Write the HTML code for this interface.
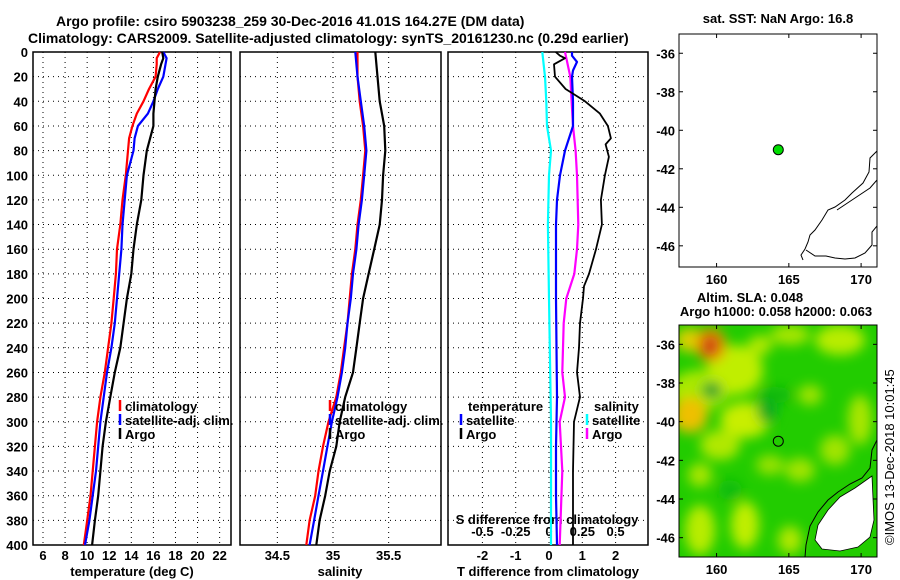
<!DOCTYPE html>
<html><head><meta charset="utf-8"><style>
html,body{margin:0;padding:0;background:#fff;}
svg{display:block;font-family:"Liberation Sans",sans-serif;font-weight:bold;}
text{font-size:13px;fill:#000;}
text.title{font-size:14px;}
</style></head><body>
<svg id="chart" width="900" height="580" viewBox="0 0 900 580" xmlns="http://www.w3.org/2000/svg">
<defs>
<filter id="blur" x="-50%" y="-50%" width="200%" height="200%"><feGaussianBlur stdDeviation="6"/></filter>
<clipPath id="mapclip"><rect x="679" y="325" width="198" height="232"/></clipPath>
<clipPath id="mapclip1"><rect x="679" y="34" width="198" height="233"/></clipPath>
</defs>
<text class="title" x="56" y="26">Argo profile: csiro 5903238_259 30-Dec-2016 41.01S 164.27E (DM data)</text>
<text class="title" x="28" y="43">Climatology: CARS2009. Satellite-adjusted climatology: synTS_20161230.nc (0.29d earlier)</text>
<g id="g"></g>
</svg>
<script>
// ---- data ----
const tDepths = [0,5,10,20,30,40,50,60,70,80,100,120,140,160,180,200,220,240,260,280,300,320,340,360,380,400];
const tArgo = [16.8,16.9,16.7,16.4,16.2,16.1,16.0,16.0,15.7,15.4,15.1,14.9,14.5,14.2,14.0,13.6,13.3,13.0,12.5,12.1,11.7,11.4,11.2,11.0,10.7,10.45];
const tClim = [16.6,16.3,16.3,16.2,15.6,15.1,14.5,14.1,13.8,13.7,13.5,13.2,13.0,12.7,12.6,12.4,12.2,11.9,11.6,11.2,10.9,10.7,10.5,10.3,10.0,9.7];
const tSat  = [16.9,17.2,17.1,16.9,16.4,16.0,15.5,14.6,14.3,14.2,13.6,13.4,13.2,13.1,12.9,12.7,12.5,12.2,11.8,11.5,11.2,11.0,10.8,10.5,10.2,9.8];
const sDepths = [0,20,40,60,80,100,120,140,160,180,200,220,240,260,280,300,320,340,360,380,400];
const sArgo = [35.38,35.40,35.42,35.46,35.47,35.45,35.44,35.42,35.37,35.32,35.27,35.24,35.21,35.18,35.11,35.06,35.03,34.97,34.93,34.88,34.85];
const sClim = [35.22,35.22,35.24,35.27,35.29,35.27,35.25,35.22,35.20,35.17,35.15,35.13,35.10,35.07,35.03,34.96,34.91,34.87,34.84,34.79,34.76];
const sSat  = [35.20,35.22,35.25,35.28,35.30,35.28,35.26,35.23,35.21,35.18,35.16,35.13,35.11,35.08,35.04,34.99,34.95,34.91,34.87,34.83,34.79];
const dTArgoDepths = [0,3,5,10,20,30,40,50,60,70,75,85,100,120,140,160,180,190,200,220,240,260,280,300,340,400];
const dTArgo = [0.2,0.33,0.48,0.15,0.18,0.5,1.08,1.53,1.77,1.86,1.7,1.8,1.68,1.56,1.59,1.41,1.2,1.05,1.02,0.93,0.9,0.84,0.93,0.75,0.72,0.72];
const dTSatDepths = [0,3,8,15,20,40,60,80,100,120,140,200,280,320,360,400];
const dTSat = [0.69,0.69,0.84,0.72,0.69,0.72,0.72,0.48,0.33,0.24,0.21,0.21,0.24,0.21,0.21,0.24];
const dSSatDepths = [0,20,40,60,80,100,140,200,300,400];
const dSSat = [-0.05,-0.03,-0.02,-0.015,0.015,0,-0.008,0,0.015,0.015];
const dSArgoDepths = [0,20,40,60,80,100,140,160,180,200,220,260,280,300,340,400];
const dSArgo = [0.12,0.16,0.17,0.18,0.2,0.21,0.22,0.21,0.19,0.13,0.11,0.1,0.12,0.08,0.1,0.08];
const depthTicks = [0,20,40,60,80,100,120,140,160,180,200,220,240,260,280,300,320,340,360,380,400];
const tTicks = [6,8,10,12,14,16,18,20,22];
const sTicks = [34.5,35,35.5];
const dTTicks = [-2,-1,0,1,2];
const dSTicks = ["-0.5","-0.25","0","0.25","0.5"];
const latTicks = [-36,-38,-40,-42,-44,-46];
const lonTicks = [160,165,170];
const argoLon = 164.27, argoLat = -41.01;

// ---- axes ----
const NS='http://www.w3.org/2000/svg';
const G=document.getElementById('g');
function el(tag,attrs,parent){const e=document.createElementNS(NS,tag);for(const k in attrs)e.setAttribute(k,attrs[k]);(parent||G).appendChild(e);return e;}
const Y0=52,Y1=545;
const yD=d=>Y0+d*(Y1-Y0)/400;
const xT=t=>43+(t-6)*11.04;
const xS=s=>333+(s-35)*111.3;
const xDT=d=>549+d*33.3;
const xDS=d=>549+d*133.2;
const panels=[{x0:33,x1:231,name:'temperature-panel'},{x0:240,x1:441,name:'salinity-panel'},{x0:448,x1:648,name:'difference-panel'}];
const xGrids=[tTicks.map(xT),sTicks.map(xS),dTTicks.map(xDT)];

panels.forEach((p,i)=>{
  const g=el('g',{});
  
  
  depthTicks.forEach(d=>{ if(d>0&&d<400){const l=el('line',{x1:p.x0,x2:p.x1,y1:yD(d),y2:yD(d),stroke:'#000','stroke-width':1,'stroke-dasharray':'1,4'},g);}});
  xGrids[i].forEach(x=>{const l=el('line',{x1:x,x2:x,y1:Y0,y2:Y1,stroke:'#000','stroke-width':1,'stroke-dasharray':'1,4'},g);});
  const r=el('rect',{x:p.x0,y:Y0,width:p.x1-p.x0,height:Y1-Y0,fill:'none',stroke:'#000','stroke-width':1.5},g);
  
  
});
depthTicks.forEach(d=>{const t=el('text',{x:28,y:yD(d)+5,'text-anchor':'end'});t.textContent=d;

});
tTicks.forEach(v=>{const t=el('text',{x:xT(v),y:560,'text-anchor':'middle'});t.textContent=v;

});
sTicks.forEach(v=>{const t=el('text',{x:xS(v),y:560,'text-anchor':'middle'});t.textContent=v;

});
dTTicks.forEach(v=>{const t=el('text',{x:xDT(v),y:560,'text-anchor':'middle'});t.textContent=v;

});
dSTicks.forEach(v=>{const t=el('text',{x:xDS(parseFloat(v)),y:536,'text-anchor':'middle'});t.textContent=v;

});
[['temperature (deg C)',132,'x-axis-title-temperature'],['salinity',340,'x-axis-title-salinity'],['T difference from climatology',548,'x-axis-title-t-diff']].forEach(a=>{
  const t=el('text',{x:a[1],y:576,'text-anchor':'middle'});t.textContent=a[0];
  
  
});
{const t=el('text',{x:547,y:524,'text-anchor':'middle'});t.textContent='S difference from climatology';

}

function line(depths,vals,xf,color,name,w){
  const pts=depths.map((d,i)=>xf(vals[i]).toFixed(1)+','+yD(d).toFixed(1)).join(' ');
  const l=el('polyline',{points:pts,fill:'none',stroke:color,'stroke-width':w||2.2,'stroke-linejoin':'round'});
  
  
}
line(tDepths,tClim,xT,'#ff0000','temperature-climatology-line');
line(tDepths,tSat,xT,'#0000ff','temperature-satellite-line');
line(tDepths,tArgo,xT,'#000','temperature-argo-line');
line(sDepths,sClim,xS,'#ff0000','salinity-climatology-line');
line(sDepths,sSat,xS,'#0000ff','salinity-satellite-line');
line(sDepths,sArgo,xS,'#000','salinity-argo-line');
line(dSSatDepths,dSSat,xDS,'#00ffff','s-diff-satellite-line');
line(dSArgoDepths,dSArgo,xDS,'#ff00ff','s-diff-argo-line');
line(dTSatDepths,dTSat,xDT,'#0000ff','t-diff-satellite-line');
line(dTArgoDepths,dTArgo,xDT,'#000','t-diff-argo-line',1.8);

function legend(x,y,color,label,name){
  const m=el('line',{x1:x,x2:x,y1:y-11,y2:y,stroke:color,'stroke-width':2.5});
  
  
  const t=el('text',{x:x+5,y:y});t.textContent=label;
  
  
}
legend(120,411,'#ff0000','climatology','legend-climatology');
legend(120,425,'#0000ff','satellite-adj. clim.','legend-satellite-adj');
legend(120,439,'#000','Argo','legend-argo');
legend(330,411,'#ff0000','climatology','legend-s-climatology');
legend(330,425,'#0000ff','satellite-adj. clim.','legend-s-satellite-adj');
legend(330,439,'#000','Argo','legend-s-argo');
{const t=el('text',{x:468,y:411});t.textContent='temperature';

}
legend(461,425,'#0000ff','satellite','legend-t-satellite');
legend(461,439,'#000','Argo','legend-t-argo');
{const t=el('text',{x:594,y:411});t.textContent='salinity';

}
legend(587,425,'#00ffff','satellite','legend-s-satellite');
legend(587,439,'#ff00ff','Argo','legend-s-argo-diff');

// ---- maps ----
function mapAxes(x0,y0,w,h,lon0,lon1,lat0,lat1,prefix){
  const mx=l=>x0+(l-lon0)/(lon1-lon0)*w;
  const my=l=>y0+(lat0-l)/(lat0-lat1)*h;
  latTicks.forEach(v=>{
    const t=el('text',{x:x0-4,y:my(v)+5,'text-anchor':'end'});t.textContent=v;
    
    
    el('line',{x1:x0,x2:x0+4,y1:my(v),y2:my(v),stroke:'#000'});
    el('line',{x1:x0+w,x2:x0+w-4,y1:my(v),y2:my(v),stroke:'#000'});
  });
  lonTicks.forEach(v=>{
    const t=el('text',{x:mx(v),y:y0+h+17,'text-anchor':'middle'});t.textContent=v;
    
    
    el('line',{x1:mx(v),x2:mx(v),y1:y0+h,y2:y0+h-4,stroke:'#000'});
    el('line',{x1:mx(v),x2:mx(v),y1:y0,y2:y0+4,stroke:'#000'});
  });
  return [mx,my];
}
const slaG=el('g',{'clip-path':'url(#mapclip)'});


el('rect',{x:679,y:325,width:198,height:232,fill:'#22cc00'},slaG);
const bf=el('g',{filter:'url(#blur)'},slaG);
[[700,390,30,20,'#aae800'],[735,370,28,25,'#c0ee00'],[690,415,18,18,'#eec000'],[745,420,25,18,'#c8ee00'],[720,445,20,15,'#b0e800'],
 [700,530,15,25,'#b8ec00'],[745,525,14,24,'#c0ee00'],[790,335,20,10,'#a8e600'],[840,340,25,15,'#b8ec00'],[860,420,12,25,'#a8e600'],
 [810,395,12,10,'#a0e400'],[770,465,14,10,'#98e200'],[690,340,15,12,'#ddd000'],[800,470,15,12,'#a0e400'],[835,450,15,15,'#a0e400'],
 [760,345,12,10,'#b0e800'],[700,475,12,12,'#a8e600'],[790,540,12,14,'#b0e800']]
.forEach(b=>el('ellipse',{cx:b[0],cy:b[1],rx:b[2],ry:b[3],fill:b[4]},bf));
[[767,410,10,14,'#11aa22'],[712,390,10,8,'#119933'],[775,395,18,8,'#11b811'],[730,490,12,10,'#11bb11']].forEach(b=>el('ellipse',{cx:b[0],cy:b[1],rx:b[2],ry:b[3],fill:b[4]},bf));
el('ellipse',{cx:711,cy:345,rx:15,ry:17,fill:'#ee9000'},bf);
el('ellipse',{cx:710,cy:346,rx:8,ry:10,fill:'#c83010'},bf);
const land='M872,476 L855,488 L840,497 L828,510 L818,525 L815,540 L822,549 L840,551 L858,547 L870,537 L874,520 Z';
el('path',{d:land,fill:'#fff',stroke:'#000','stroke-width':0.8},slaG);
el('path',{d:'M877,440 L872,450 L870,468 L862,478 L850,484 L838,492 L828,500 L818,512 L810,526 L806,545 L805,557',fill:'none',stroke:'#000','stroke-width':1},slaG);
el('rect',{x:679,y:325,width:198,height:232,fill:'none',stroke:'#000','stroke-width':1});
const [mx2,my2]=mapAxes(679,325,198,232,157.4,171.1,-35.0,-47.0,'sla-map');
{const c=el('circle',{cx:mx2(argoLon),cy:my2(argoLat),r:5,fill:'none',stroke:'#000','stroke-width':1});

}
{const t=el('text',{x:750,y:302,'text-anchor':'middle'});t.textContent='Altim. SLA: 0.048';

}
{const t=el('text',{x:776,y:316,'text-anchor':'middle'});t.textContent='Argo h1000: 0.058 h2000: 0.063';

}

el('rect',{x:679,y:34,width:198,height:233,fill:'#fff',stroke:'#000','stroke-width':1});
const cg=el('g',{'clip-path':'url(#mapclip1)',fill:'none',stroke:'#000','stroke-width':1});


el('path',{d:'M877,151 L870,158 L869,172 L863,183 L852,193 L845,200 L835,207 L828,210 L822,220 L815,230 L810,235 L808,242 L805,249 L801,255 L803,260'},cg);
el('path',{d:'M877,180 L870,188 L858,196 L843,206 L837,210'},cg);
el('path',{d:'M877,226 L872,232 L872,245 L865,253 L855,258 L845,259 L835,258 L826,256 L815,256 L806,250'},cg);
const [mx1,my1]=mapAxes(679,34,198,233,157.4,171.1,-35.0,-47.1,'sst-map');
{const c=el('circle',{cx:mx1(argoLon),cy:my1(argoLat),r:5,fill:'#00dd00',stroke:'#000','stroke-width':1});

}
{const t=el('text',{x:778,y:23,'text-anchor':'middle'});t.textContent='sat. SST: NaN Argo: 16.8';

}
{const t=el('text',{x:0,y:0,transform:'translate(894,545) rotate(-90)','font-weight':'normal'});t.textContent='©IMOS 13-Dec-2018 10:01:45';

}
</script>
</body></html>
